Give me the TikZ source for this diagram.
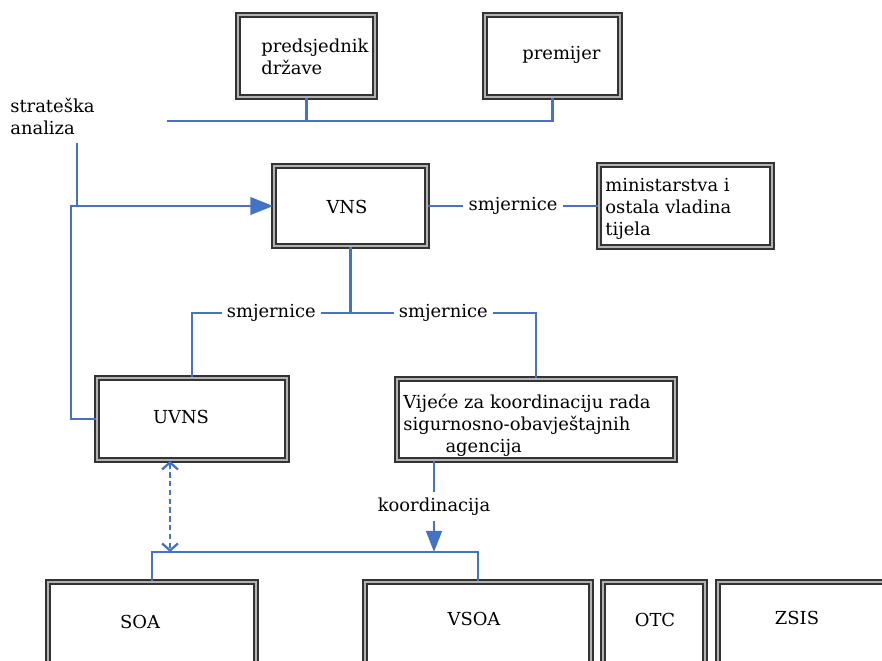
\documentclass[tikz,border=0pt]{standalone}
\usepackage{fontspec}
\setmainfont{DejaVu Serif}
\usepackage{tikz}
\usepackage{xcolor}
\usetikzlibrary{arrows.meta, positioning, fit}

\definecolor{linkblue}{HTML}{4472C4}

\begin{document}
\begin{tikzpicture}[x=0.02cm, y=-0.02cm, font=\fontsize{10.2}{12.5}\selectfont,
    box/.style={rectangle, draw=black!80, line width=1pt, double=gray!60, double distance=1.4pt, inner sep=0pt},
    txt/.style={inner sep=0pt, align=left},
    link/.style={draw=linkblue, line width=1.3pt},
    lbl/.style={fill=white, inner sep=3pt}]

            \useasboundingbox (0,0) rectangle (882,660);
            \clip (0,0) rectangle (882,660);

            \node[box, fit={(238,15) (375,97)}] (PRED) {};
            \node[box, fit={(485,15) (620,97)}] (PREM) {};
            \node[box, fit={(274,166) (427,246)}] (VNS) {};
            \node[box, fit={(599,165) (772,247)}] (MIN) {};
            \node[box, fit={(97,378) (287,460)}] (UVNS) {};
            \node[box, fit={(397,379) (675,460)}] (VIJ) {};
            \node[box, fit={(48,582) (256,700)}] (SOA) {};
            \node[box, fit={(365,582) (591,700)}] (VSOA) {};
            \node[box, fit={(603,582) (705,700)}] (OTC) {};
            \node[box, fit={(718,582) (900,700)}] (ZSIS) {};

            \node[txt, anchor=west] (PREDt) at (261,57) {predsjednik\\države};
            \node[txt, anchor=west] (PREMt) at (522,55) {premijer};
            \node[txt] (VNSt) at (347,207) {VNS};
            \node[txt, anchor=west] (MINt) at (605,209) {ministarstva i\\ostala vladina\\tijela};
            \node[txt] (UVNSt) at (181,417) {UVNS};
            \node[txt, anchor=west] (VIJt) at (403,425) {Vijeće za koordinaciju rada\\sigurnosno-obavještajnih\\\hspace{24pt}agencija};
            \node[txt] (SOAt) at (140,622) {SOA};
            \node[txt] (VSOAt) at (474,619) {VSOA};
            \node[txt] (OTCt) at (655,620) {OTC};
            \node[txt] (ZSISt) at (797,618) {ZSIS};
            \node[txt, anchor=west] (SAt) at (10,116) {strateška\\analiza};

            \coordinate (GOV) at (167,121);
            \coordinate (SA) at (77,143);
            \coordinate (KO) at (434,552);
            \coordinate (DASH) at (170,552);

            \draw[link] (PRED.south) |- (GOV);
            \draw[link] (PREM.south) |- (GOV);
            \draw[link] (SA) -- (SA |- VNS.west);
            \draw[link, -{Triangle[length=13pt, width=10pt]}] (UVNS.west) -- ++(-25,0) |- (VNS.west);
            \draw[link] (VNS.east) -- node[lbl] {smjernice} (MIN.west);
            \draw[link] (VNS.south) -- ++(0,66) coordinate (SPLIT);
            \draw[link] (SPLIT) -- node[lbl] {smjernice} (UVNS.north |- SPLIT) -- (UVNS.north);
            \draw[link] (SPLIT) -- node[lbl] {smjernice} (VIJ.north |- SPLIT) -- (VIJ.north);
            \draw[link, -{Triangle[length=12pt, width=9pt]}] (VIJ.south -| KO) -- node[lbl] {koordinacija} (KO);
            \draw[link] (SOA.north) |- (KO) -- (VSOA.north |- KO) -- (VSOA.north);
            \draw[link, dash pattern=on 3pt off 2pt, {Straight Barb[length=4pt, width=9pt]}-{Straight Barb[length=4pt, width=9pt]}] (UVNS.south -| DASH) -- (DASH);

        \end{tikzpicture}
\end{document}
